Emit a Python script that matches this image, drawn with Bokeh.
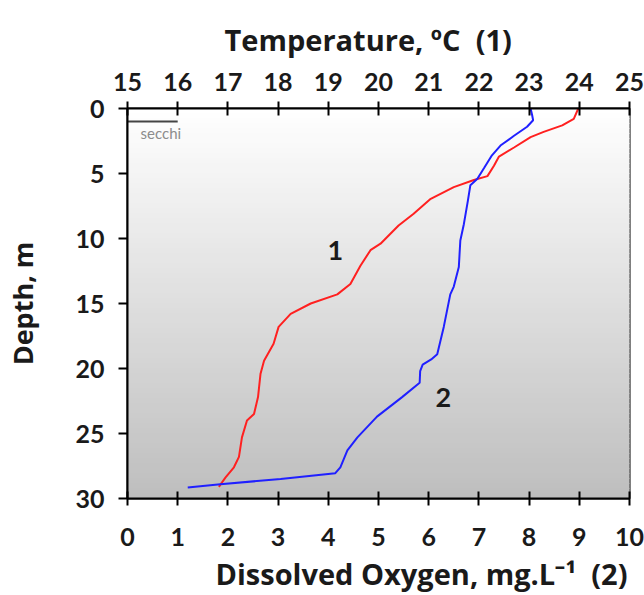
from bokeh.plotting import figure
from bokeh.models import Range1d, LinearAxis, Title, FixedTicker
from bokeh.core.properties import value
from bokeh.embed import file_html
from bokeh.resources import INLINE

# ---- data ----
temp_depth = [0, 0.8, 1.3, 1.8, 2.2, 3.0, 3.7, 4.4, 5.2, 5.5, 6.05, 6.95, 8.1, 9.0,
              10.4, 10.9, 12.1, 13.5, 14.3, 15.0, 15.8, 16.8, 18.1, 19.4, 20.4, 22.2,
              23.5, 24.0, 25.3, 26.8, 27.6, 28.4, 29.1]
temperature = [23.98, 23.89, 23.66, 23.29, 23.03, 22.70, 22.40, 22.30, 22.17, 21.90,
               21.50, 21.04, 20.70, 20.40, 20.04, 19.84, 19.64, 19.44, 19.18, 18.65,
               18.25, 18.01, 17.91, 17.72, 17.65, 17.60, 17.52, 17.38, 17.28, 17.22,
               17.12, 16.95, 16.82]

do_depth = [0, 0.5, 0.9, 1.4, 2.1, 2.85, 3.6, 4.6, 5.4, 5.9, 7.1, 8.9, 10.15, 12.2,
            13.7, 14.3, 16.8, 18.9, 19.3, 19.7, 20.2, 21.1, 22.2, 23.7, 25.3, 26.3,
            27.6, 28.05, 28.5, 28.9, 29.15]
dissolved_oxygen = [8.03, 8.06, 8.08, 7.96, 7.70, 7.43, 7.26, 7.10, 6.97, 6.83, 6.78,
                    6.70, 6.63, 6.60, 6.50, 6.43, 6.30, 6.17, 6.05, 5.88, 5.83, 5.82,
                    5.47, 4.97, 4.58, 4.38, 4.24, 4.14, 3.05, 1.85, 1.20]

secchi_depth = 1.0
secchi_x = [0, 1]

temp_ticks = list(range(15, 26))
do_ticks = list(range(0, 11))
depth_ticks = [0, 5, 10, 15, 20, 25, 30]

curve_labels = ["1", "2"]
curve_label_x = [4.14, 6.29]
curve_label_depth = [10.9, 22.2]

FONT = "Lato"
TFONT = "Open Sans"
TXT = "#1a1a1a"

p = figure(width=644, height=595, output_backend="svg", toolbar_location=None,
           title="Temperature, ºC\u00a0\u00a0(1)",
           x_range=Range1d(0, 10), y_range=Range1d(30, 0),
           x_axis_location=None, y_axis_location=None,
           min_border_left=127, min_border_right=15, min_border_top=108,
           min_border_bottom=97, background_fill_color="white",
           border_fill_color="white")
p.extra_x_ranges = {"temp": Range1d(15, 25)}
p.grid.visible = False
p.outline_line_color = "black"
p.outline_line_width = 2

p.title.align = "left"
p.title.offset = 97
p.title.standoff = 22
p.title.text_font = TFONT
p.title.text_font_style = "bold"
p.title.text_font_size = "29px"
p.title.text_color = TXT

# background gradient (white at surface to grey at bottom)
n = 78
tops = [30 * i / n for i in range(n)]
bots = [30 * (i + 1) / n for i in range(n)]
cols = []
for i in range(n):
    v = int(round(255 - (255 - 190) * (i + 0.5) / n))
    cols.append("#%02x%02x%02x" % (v, v, v))
p.quad(left=0, right=10, top=tops, bottom=bots, fill_color=cols, line_color=cols,
       line_width=1)

bottom_axis = LinearAxis(ticker=FixedTicker(ticks=do_ticks))
top_axis = LinearAxis(x_range_name="temp", ticker=FixedTicker(ticks=temp_ticks))
left_axis = LinearAxis(ticker=FixedTicker(ticks=depth_ticks))
p.add_layout(bottom_axis, "below")
p.add_layout(top_axis, "above")
p.add_layout(left_axis, "left")

for ax in [bottom_axis, top_axis, left_axis]:
    ax.axis_line_color = "black"
    ax.axis_line_width = 2
    ax.major_tick_line_color = "black"
    ax.major_tick_line_width = 2
    ax.minor_tick_line_color = None
    ax.major_label_text_font = FONT
    ax.major_label_text_font_style = "bold"
    ax.major_label_text_font_size = "25px"
    ax.major_label_text_color = TXT

for ax in [bottom_axis, top_axis]:
    ax.major_tick_in = 7
    ax.major_tick_out = 7
bottom_axis.major_label_standoff = 22
top_axis.major_label_standoff = 11

left_axis.major_tick_in = 0
left_axis.major_tick_out = 9
left_axis.major_label_standoff = 14
left_axis.axis_label = "Depth, m"
left_axis.axis_label_text_font = TFONT
left_axis.axis_label_text_font_style = "bold"
left_axis.axis_label_text_font_size = "27px"
left_axis.axis_label_text_color = TXT
left_axis.axis_label_standoff = 31

t_bot = Title(text="Dissolved Oxygen, mg.L⁻¹\u00a0\u00a0(2)", align="left", offset=88,
              standoff=6, text_font=TFONT, text_font_style="bold",
              text_font_size="29px", text_color=TXT)
p.add_layout(t_bot, "below")

# secchi
p.line(secchi_x, [secchi_depth, secchi_depth], line_color="#444444", line_width=2)
p.text(x=[0.26], y=[secchi_depth + 0.9], text=["secchi"], text_font=value(FONT),
       text_font_size="15px", text_color="#8c8c8c", text_align="left",
       text_baseline="middle")

# curves
p.line(temperature, temp_depth, x_range_name="temp", line_color="#ff2020", line_width=2)
p.line(dissolved_oxygen, do_depth, line_color="#2020ff", line_width=2)

p.text(x=curve_label_x, y=curve_label_depth, text=curve_labels, text_font=value(FONT),
       text_font_style="bold", text_font_size="27px", text_color=TXT,
       text_align="center", text_baseline="middle")

open("out.html", "w").write(file_html(p, INLINE))
